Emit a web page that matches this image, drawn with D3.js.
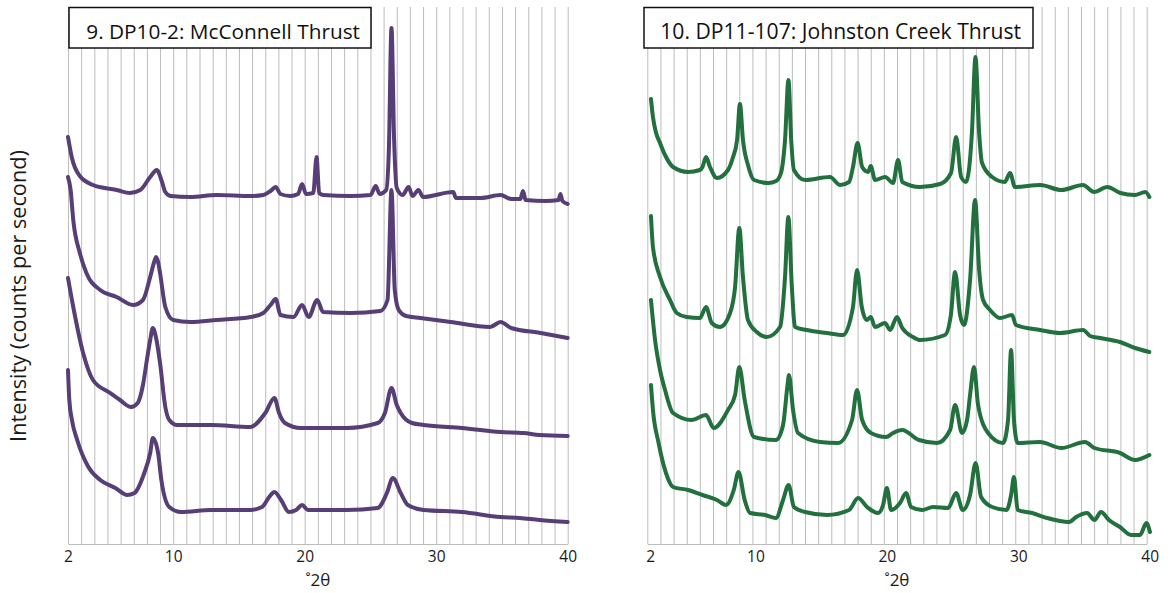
<!DOCTYPE html>
<html>
<head>
<meta charset="utf-8">
<script src="https://cdn.jsdelivr.net/npm/d3@7"></script>
<style>
  body { margin: 0; background: #fff; }
  svg { display: block; font-family: "Open Sans", "Noto Sans", sans-serif; }
  .grid line { stroke: #bcbcbc; stroke-width: 1; }
  .grid .domain { display: none; }
  .xaxis .domain { stroke: #bcbcbc; stroke-width: 1.2; }
  .xaxis text { font-family: "Open Sans", "Noto Sans", sans-serif; font-size: 15.5px; fill: #1a1a1a; }
  .trace { fill: none; stroke-width: 4; stroke-linejoin: round; stroke-linecap: round; }
</style>
</head>
<body>
<script>
// panel titles and tick labels
var panelTitles = ["9. DP10-2: McConnell Thrust", "10. DP11-107: Johnston Creek Thrust"];
var tickLabels = [2, 10, 20, 30, 40];
var xTitle = "\u02DA2\u03B8";
var yTitle = "Intensity (counts per second)";

// DP10-2 traces, [degrees 2theta, relative intensity]
var dp10a = [[2.0,407],[2.3,386],[2.9,368],[3.9,359],[4.8,356],[5.7,354],[6.7,351],[7.5,354],[8.25,367],[8.75,374],[9.15,362],[9.4,352],[9.8,348],[11.3,347],[13.3,349],[15.9,348],[16.85,349],[17.4,353],[17.8,357],[18.15,350],[18.9,348],[19.5,350],[19.8,360],[20.1,350],[20.65,351],[20.9,387],[21.1,351],[21.4,349],[23.5,348],[25.0,349],[25.4,358],[25.7,350],[26.2,354],[26.4,394],[26.6,516],[26.8,404],[27.0,356],[27.45,349],[27.9,357],[28.2,348],[28.65,354],[29.0,347],[31.3,352],[31.5,346],[33.4,346],[34.9,349],[35.7,345],[36.4,345],[36.6,353],[36.8,344],[38.3,343],[39.3,344],[39.45,350],[39.6,343],[40.0,340]];
var dp10b = [[2.0,367],[2.2,354],[2.4,324],[2.9,291],[3.4,271],[4.45,254],[5.7,247],[6.95,239],[7.7,244],[8.25,267],[8.55,282],[8.7,287],[8.85,282],[9.0,271],[9.4,237],[10.0,224],[11.3,222],[13.3,224],[15.9,227],[16.85,231],[17.4,239],[17.8,245],[18.15,229],[19.15,227],[19.8,239],[20.3,227],[20.95,244],[21.4,232],[23.5,231],[25.75,233],[26.3,244],[26.6,354],[26.85,254],[27.15,234],[27.7,228],[28.8,226],[31.1,222],[34.1,217],[34.9,222],[35.7,216],[37.95,211],[40.0,206]];
var dp10c = [[2.0,266],[2.4,237],[3.15,191],[3.9,164],[5.2,151],[5.95,144],[6.8,137],[7.3,141],[7.7,159],[8.0,184],[8.25,204],[8.45,216],[8.7,206],[9.0,181],[9.4,137],[9.7,124],[10.3,119],[12.9,119],[15.85,117],[17.0,131],[17.7,146],[18.05,131],[18.5,121],[19.7,116],[23.2,116],[25.55,121],[26.1,131],[26.6,156],[27.0,139],[27.3,131],[28.15,121],[29.05,119],[31.95,116],[34.9,112],[36.65,111],[37.85,109],[40.0,108]];
var dp10d = [[2.0,174],[2.1,144],[2.3,124],[2.7,104],[3.55,77],[4.45,64],[5.6,56],[6.5,49],[7.05,51],[7.8,71],[8.25,91],[8.45,106],[8.85,91],[9.1,64],[9.7,37],[10.6,32],[12.9,34],[15.85,34],[16.75,37],[17.3,47],[17.7,52],[18.2,44],[18.8,32],[19.35,34],[19.8,39],[20.25,34],[23.2,34],[25.55,36],[26.25,51],[26.7,66],[27.3,51],[27.85,39],[29.05,34],[31.95,32],[34.9,27],[36.35,26],[37.85,24],[40.0,22]];

// DP11-107 traces
var dp11a = [[2.28,445],[2.43,427],[2.65,412],[2.97,401],[3.35,389],[3.96,377],[5.1,372],[6.0,374],[6.2,377],[6.47,387],[6.77,377],[7.3,366],[8.14,374],[8.5,386],[8.83,404],[9.05,440],[9.28,404],[9.66,379],[10.12,364],[11.22,361],[11.8,363],[12.17,371],[12.48,404],[12.74,464],[12.95,404],[13.16,374],[14.0,364],[15.9,367],[16.67,359],[17.35,362],[17.65,377],[18.0,401],[18.35,377],[18.8,372],[19.0,378],[19.33,364],[20.1,367],[20.7,361],[21.08,384],[21.4,362],[22.75,357],[24.28,360],[25.11,371],[25.5,407],[25.88,367],[26.25,362],[26.7,411],[26.97,487],[27.25,411],[27.47,381],[28.24,367],[29.2,362],[29.6,371],[29.98,357],[31.9,359],[33.5,354],[35.15,359],[36.0,352],[37.0,357],[38.0,351],[39.1,349],[39.9,352],[40.2,347]];
var dp11b = [[2.28,328],[2.43,297],[2.97,267],[3.73,244],[4.24,231],[5.0,227],[6.0,226],[6.47,237],[6.9,221],[7.53,217],[8.3,231],[8.68,257],[9.0,316],[9.28,267],[9.66,224],[10.33,212],[11.09,207],[12.1,217],[12.48,267],[12.73,327],[13.0,257],[13.24,217],[14.13,214],[15.65,211],[16.9,209],[17.65,237],[17.96,274],[18.32,237],[18.7,224],[19.0,227],[19.33,217],[20.09,221],[20.47,214],[21.0,227],[21.36,217],[22.22,207],[22.75,204],[24.65,209],[25.1,229],[25.42,272],[25.8,229],[26.1,219],[26.56,264],[26.94,344],[27.25,274],[27.55,244],[28.08,234],[28.84,226],[29.75,229],[30.05,219],[31.89,214],[33.41,211],[35.16,214],[35.7,208],[36.45,206],[37.97,202],[39.11,196],[40.2,192]];
var dp11c = [[2.28,244],[2.59,204],[2.97,174],[3.35,154],[3.96,131],[5.37,124],[6.47,129],[7.05,116],[8.14,134],[8.68,149],[9.0,177],[9.41,144],[10.12,107],[11.79,104],[12.33,119],[12.67,159],[12.78,169],[13.09,134],[13.47,111],[15.14,102],[16.51,101],[17.58,124],[17.96,154],[18.35,124],[19.02,111],[20.17,107],[20.7,111],[21.39,114],[22.68,104],[24.05,101],[25.04,114],[25.42,139],[25.95,111],[26.33,124],[26.56,149],[26.86,177],[27.17,139],[27.93,111],[29.07,101],[29.45,124],[29.68,194],[29.9,124],[30.18,101],[31.86,102],[33.52,96],[35.31,102],[36.03,96],[37.97,91],[39.11,84],[40.2,89]];
var dp11d = [[2.28,159],[2.43,134],[2.86,101],[3.42,71],[3.96,57],[5.1,54],[6.21,49],[7.3,44],[7.99,39],[8.58,54],[8.94,72],[9.41,44],[9.82,31],[10.96,29],[11.79,26],[12.33,44],[12.75,59],[13.16,37],[14.0,32],[15.68,29],[17.35,34],[18.04,46],[18.72,37],[19.56,31],[19.94,39],[20.23,56],[20.55,34],[21.23,41],[21.69,51],[22.07,37],[22.91,34],[23.75,37],[24.89,36],[25.5,51],[26.0,34],[26.56,49],[26.98,81],[27.4,47],[28.24,37],[29.34,34],[29.68,49],[29.9,67],[30.18,34],[31.28,31],[32.42,26],[34.09,22],[34.63,27],[35.46,31],[36.03,24],[36.52,32],[37.13,24],[37.97,17],[38.81,9],[39.49,9],[39.98,21],[40.25,12]];

var W = 1171, H = 593;
var plotTop = 7, plotBottom = 544;

var svg = d3.select("body").append("svg")
    .attr("width", W)
    .attr("height", H);

var y = d3.scaleLinear().domain([0, 537]).range([plotBottom, plotTop]);

var panels = [
  {left: 68, right: 567.7, color: "#573e77", title: panelTitles[0], series: [dp10a, dp10b, dp10c, dp10d],
   box: [69, 7.5, 302, 40.5], textW: 274, textEnd: 360, labelDx: 0},
  {left: 647.3, right: 1146.7, color: "#22703d", title: panelTitles[1], series: [dp11a, dp11b, dp11c, dp11d],
   box: [644, 7.5, 389, 40.5], textW: 361, textEnd: 1021, labelDx: 3}
];

// shrink/grow a text node so it spans w pixels
function fitWidth(t, w, base) {
  t.style("font-size", base + "px");
  var len = t.node().getComputedTextLength();
  t.style("font-size", (base * w / len) + "px");
}

panels.forEach(function(p) {
  var x = d3.scaleLinear().domain([2, 40]).range([p.left, p.right]);
  var g = svg.append("g");

  // one vertical rule per degree
  g.append("g")
    .attr("class", "grid")
    .attr("transform", "translate(0," + plotBottom + ")")
    .call(d3.axisBottom(x).tickValues(d3.range(2, 41)).tickSize(-(plotBottom - plotTop)).tickFormat(""));

  var ax = g.append("g")
    .attr("class", "xaxis")
    .attr("transform", "translate(0," + plotBottom + ")")
    .call(d3.axisBottom(x).tickValues(tickLabels).tickSize(0).tickPadding(7));
  ax.selectAll("text").attr("dx", p.labelDx);

  g.append("text")
    .attr("x", (p.left + p.right) / 2)
    .attr("y", 586)
    .attr("text-anchor", "middle")
    .style("font-size", "17px")
    .style("fill", "#1a1a1a")
    .text(xTitle);

  var line = d3.line()
    .x(function(d) { return x(d[0]); })
    .y(function(d) { return y(d[1]); })
    .curve(d3.curveMonotoneX);

  g.selectAll("path.trace")
    .data(p.series)
    .enter().append("path")
    .attr("class", "trace")
    .attr("stroke", p.color)
    .attr("d", line);

  // title box
  g.append("rect")
    .attr("x", p.box[0]).attr("y", p.box[1])
    .attr("width", p.box[2]).attr("height", p.box[3])
    .attr("fill", "#fff")
    .attr("stroke", "#111")
    .attr("stroke-width", 1.5);

  var t = g.append("text")
    .attr("x", p.textEnd)
    .attr("y", 39)
    .attr("text-anchor", "end")
    .style("fill", "#111")
    .text(p.title);
  fitWidth(t, p.textW, 22);
});

var yl = svg.append("text")
  .attr("transform", "translate(26,296) rotate(-90)")
  .attr("text-anchor", "middle")
  .style("fill", "#1a1a1a")
  .text(yTitle);
fitWidth(yl, 292, 18);
</script>
</body>
</html>
